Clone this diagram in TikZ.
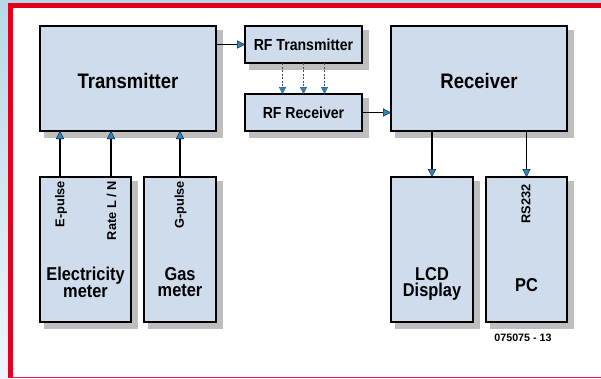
\documentclass[tikz,border=0pt]{standalone}
\usepackage{fontspec}
\setmainfont{Liberation Sans}
\newfontfamily\condfont{Liberation Sans}[FakeStretch=0.88]
\usetikzlibrary{arrows.meta}
\definecolor{boxfill}{HTML}{CFDCEC}
\definecolor{tipblue}{HTML}{2886C8}
\definecolor{shadowgray}{HTML}{BEBEBE}
\definecolor{framered}{HTML}{E3001B}
\definecolor{bgblue}{HTML}{B8D8E8}
\definecolor{bgpale}{HTML}{EEF5FA}
\begin{document}
\begin{tikzpicture}[x=1pt,y=-1pt,
  box/.style={draw=black, line width=2pt, fill=boxfill, inner sep=0pt, outer sep=0pt},
  bigtitle/.style={font=\condfont\bfseries\fontsize{21}{21}\selectfont, text height=20pt, text depth=0pt},
  rftitle/.style={font=\condfont\bfseries\fontsize{16}{16}\selectfont},
  lowtitle/.style={font=\condfont\bfseries\fontsize{18.6}{16.8}\selectfont, align=center, inner sep=0pt},
  sig/.style={font=\bfseries\fontsize{12.8}{13}\selectfont, rotate=90, anchor=east, inner sep=0pt},
  arr/.style={line width=1.5pt, -{Triangle[length=8pt,width=8pt,fill=tipblue,line width=0.3pt]}},
  dasharr/.style={draw=black!70, line width=0.8pt, dash pattern=on 2pt off 1.5pt,
    -{Triangle[length=7pt,width=7pt,fill=tipblue,line width=0.3pt]}},
  shadowbox/.style={fill=shadowgray}
]
\useasboundingbox (0,0) rectangle (601,378);
% frame
\fill[bgblue] (0,0) rectangle (601,3.3);
\shade[top color=bgblue, bottom color=bgpale] (0,3.3) rectangle (8,378);
\fill[framered] (8,3.3) rectangle (601,8.3);
\fill[framered] (8,3.3) rectangle (13,378);
\fill[white] (13,8.3) rectangle (601,376.5);
\draw[framered!85!white, line width=1pt] (13,377) -- (601,377);

% shadows of the boxes
\fill[shadowbox] (44,30) rectangle (223,138);
\fill[shadowbox] (249,30) rectangle (369,70);
\fill[shadowbox] (249,98) rectangle (369,138);
\fill[shadowbox] (395,30) rectangle (574,138);
\fill[shadowbox] (44,181) rectangle (138,329);
\fill[shadowbox] (148,181) rectangle (223,329);
\fill[shadowbox] (395,181) rectangle (480,329);
\fill[shadowbox] (490,181) rectangle (574,329);

% boxes
\node[box, bigtitle, minimum width=176pt, minimum height=105pt] (tx) at (128,78.5) {Transmitter};
\node[box, rftitle, minimum width=117pt, minimum height=37pt] (rft) at (303.5,44.5) {RF Transmitter};
\node[box, rftitle, minimum width=117pt, minimum height=37pt] (rfr) at (303.5,112.5) {RF Receiver};
\node[box, bigtitle, minimum width=176pt, minimum height=105pt] (rx) at (479,78.5) {Receiver};
\node[box, minimum width=91pt, minimum height=145pt] (em) at (85.5,249.5) {};
\node[box, minimum width=72pt, minimum height=145pt] (gm) at (180,249.5) {};
\node[box, minimum width=82pt, minimum height=145pt] (lcd) at (432,249.5) {};
\node[box, minimum width=81pt, minimum height=145pt] (pc) at (526.5,249.5) {};

% titles of the lower boxes
\node[lowtitle] (emt) at (85.5,282) {Electricity\\meter};
\node[lowtitle] (gmt) at (180,282) {Gas\\meter};
\node[lowtitle] (lcdt) at (432,284) {LCD\\Display};
\node[lowtitle] (pct) at (526.5,285) {PC};

% signal labels
\node[sig] (epl) at (61,181) {E-pulse};
\node[sig] (rln) at (111.5,181) {Rate L / N};
\node[sig] (gpl) at (180.5,181) {G-pulse};
\node[sig] (rs) at (526,184) {RS232};

% connectors
\draw[arr] ([xshift=20pt]em.north west) -- ([xshift=20pt]tx.south west);
\draw[arr] ([xshift=71pt]em.north west) -- ([xshift=71pt]tx.south west);
\draw[arr] (gm.north) -- (gm.north |- tx.south);
\draw[arr] (tx.east |- rft.west) -- (rft.west);
\draw[dasharr] ([xshift=-21pt]rft.south) -- ([xshift=-21pt]rfr.north);
\draw[dasharr] (rft.south) -- (rfr.north);
\draw[dasharr] ([xshift=21pt]rft.south) -- ([xshift=21pt]rfr.north);
\draw[arr] (rfr.east) -- (rfr.east -| rx.west);
\draw[arr] (rx.south -| lcd.north) -- (lcd.north);
\draw[arr] (rx.south -| pc.north) -- (pc.north);

\node[font=\bfseries\fontsize{10.7}{12}\selectfont] (code) at (523,338) {075075 - 13};
\end{tikzpicture}
\end{document}
